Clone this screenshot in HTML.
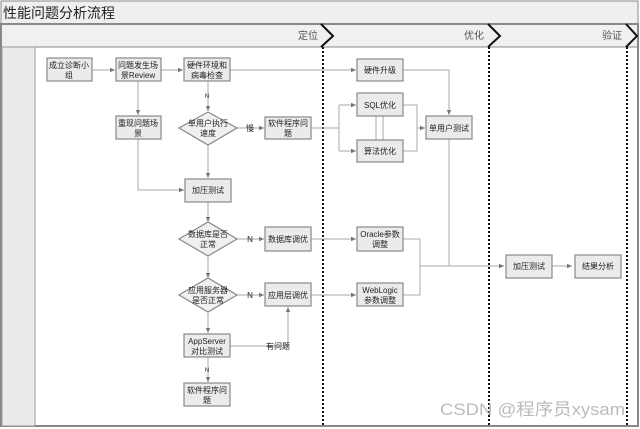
<!DOCTYPE html>
<html><head><meta charset="utf-8"><style>
html,body{margin:0;padding:0;background:#fff;}
svg{display:block;font-family:"Liberation Sans","Noto Sans CJK SC",sans-serif;}
</style></head><body>
<svg width="640" height="429" viewBox="0 0 640 429" xmlns="http://www.w3.org/2000/svg">
<defs>
<marker id="a" markerWidth="6" markerHeight="6" refX="5" refY="3" orient="auto" markerUnits="userSpaceOnUse"><path d="M0,0.8 L5,3 L0,5.2z" fill="#777"/></marker>
</defs>
<rect x="0" y="0" width="640" height="429" fill="#fff"/>
<rect x="1" y="1" width="637" height="23" fill="#efefef" stroke="#888"/>
<text x="3" y="18" font-size="14" fill="#222">性能问题分析流程</text>
<rect x="1" y="24" width="637" height="23" fill="#f0f0f0" stroke="#888"/>
<rect x="1" y="24" width="637" height="402" fill="none" stroke="#888" stroke-width="2"/>
<rect x="2" y="47" width="33" height="379" fill="#ebebeb" stroke="#999"/>
<g fill="none" stroke="#111" stroke-width="2">
<path d="M321,24 L333,36 L321,47"/>
<path d="M488,24 L500,36 L488,47"/>
<path d="M626,24 L637,36 L626,47"/>
</g>
<g font-size="10" fill="#555">
<text x="298" y="39">定位</text>
<text x="464" y="39">优化</text>
<text x="602" y="39">验证</text>
</g>
<g stroke="#111" stroke-width="2" stroke-dasharray="2,2">
<line x1="323" y1="47" x2="323" y2="426"/>
<line x1="489" y1="47" x2="489" y2="426"/>
<line x1="627" y1="47" x2="627" y2="426"/>
</g>
<g fill="none" stroke="#aaa" stroke-width="1">
<line x1="92" y1="70" x2="115" y2="70" marker-end="url(#a)"/>
<line x1="161" y1="70" x2="183" y2="70" marker-end="url(#a)"/>
<line x1="230" y1="70" x2="356" y2="70" marker-end="url(#a)"/>
<line x1="138" y1="81" x2="138" y2="115" marker-end="url(#a)"/>
<polyline points="138,139 138,190 184,190" marker-end="url(#a)"/>
<line x1="208" y1="81" x2="208" y2="111" marker-end="url(#a)"/>
<line x1="208" y1="145" x2="208" y2="178" marker-end="url(#a)"/>
<line x1="237" y1="128" x2="264" y2="128" marker-end="url(#a)"/>
<line x1="311" y1="128" x2="339" y2="128"/>
<polyline points="339,105 339,151"/>
<line x1="339" y1="105" x2="356" y2="105" marker-end="url(#a)"/>
<line x1="339" y1="151" x2="356" y2="151" marker-end="url(#a)"/>
<polyline points="403,105 417,105 417,151 403,151"/>
<line x1="417" y1="128" x2="425" y2="128" marker-end="url(#a)"/>
<polyline points="403,70 449,70 449,115" marker-end="url(#a)"/>
<line x1="376" y1="116" x2="376" y2="140"/>
<line x1="383" y1="116" x2="383" y2="140"/>
<line x1="449" y1="139" x2="449" y2="266"/>
<line x1="208" y1="202" x2="208" y2="222" marker-end="url(#a)"/>
<line x1="208" y1="256" x2="208" y2="278" marker-end="url(#a)"/>
<line x1="208" y1="312" x2="208" y2="333" marker-end="url(#a)"/>
<line x1="208" y1="357" x2="208" y2="382" marker-end="url(#a)"/>
<line x1="237" y1="239" x2="264" y2="239" marker-end="url(#a)"/>
<line x1="237" y1="295" x2="264" y2="295" marker-end="url(#a)"/>
<line x1="311" y1="239" x2="356" y2="239" marker-end="url(#a)"/>
<line x1="311" y1="295" x2="356" y2="295" marker-end="url(#a)"/>
<polyline points="230,346 288,346 288,307" marker-end="url(#a)"/>
<polyline points="403,239 420,239 420,295 403,295"/>
<line x1="420" y1="266" x2="504" y2="266" marker-end="url(#a)"/>
<line x1="551" y1="266" x2="572" y2="266" marker-end="url(#a)"/>
</g>
<g fill="#ebebeb" stroke="#888" stroke-width="1.2">
<rect x="47" y="58" width="45" height="23"/>
<rect x="116" y="58" width="45" height="23"/>
<rect x="184" y="58" width="46" height="23"/>
<rect x="116" y="116" width="45" height="23"/>
<rect x="265" y="117" width="46" height="22"/>
<rect x="185" y="179" width="46" height="23"/>
<rect x="265" y="227" width="46" height="24"/>
<rect x="265" y="283" width="46" height="23"/>
<rect x="184" y="334" width="46" height="23"/>
<rect x="184" y="383" width="46" height="23"/>
<rect x="357" y="59" width="46" height="22"/>
<rect x="357" y="93" width="46" height="23"/>
<rect x="357" y="140" width="46" height="22"/>
<rect x="426" y="116" width="46" height="23"/>
<rect x="357" y="227" width="46" height="24"/>
<rect x="357" y="283" width="46" height="23"/>
<rect x="506" y="255" width="46" height="23"/>
<rect x="575" y="255" width="46" height="23"/>
<polygon points="179,128 208,112 237,128 208,145" fill="#f0f0f0"/>
<polygon points="179,239 208,222 237,239 208,256" fill="#f0f0f0"/>
<polygon points="179,295 208,278 237,295 208,312" fill="#f0f0f0"/>
</g>
<g font-size="8" fill="#222" text-anchor="middle">
<text x="69" y="68">成立诊断小</text><text x="69" y="78">组</text>
<text x="138" y="68">问题发生场</text><text x="138" y="78">景Review</text>
<text x="207" y="68">硬件环境和</text><text x="207" y="78">病毒检查</text>
<text x="138" y="126">重现问题场</text><text x="138" y="136">景</text>
<text x="208" y="126">单用户执行</text><text x="208" y="136">速度</text>
<text x="288" y="126">软件程序问</text><text x="288" y="136">题</text>
<text x="208" y="193">加压测试</text>
<text x="208" y="237">数据库是否</text><text x="208" y="247">正常</text>
<text x="288" y="242">数据库调优</text>
<text x="208" y="293">应用服务器</text><text x="208" y="303">是否正常</text>
<text x="288" y="298">应用层调优</text>
<text x="207" y="344">AppServer</text><text x="207" y="354">对比测试</text>
<text x="207" y="393">软件程序问</text><text x="207" y="403">题</text>
<text x="380" y="73">硬件升级</text>
<text x="380" y="108">SQL优化</text>
<text x="380" y="154">算法优化</text>
<text x="449" y="131">单用户测试</text>
<text x="380" y="237">Oracle参数</text><text x="380" y="247">调整</text>
<text x="380" y="293">WebLogic</text><text x="380" y="303">参数调整</text>
<text x="529" y="269">加压测试</text>
<text x="598" y="269">结果分析</text>
<text x="250" y="131">慢</text>
<text x="250" y="242">N</text>
<text x="250" y="298">N</text>
<text x="278" y="349">有问题</text>
<text x="207" y="98" font-size="6">N</text>
<text x="207" y="372" font-size="6">N</text>
</g>
<text x="440" y="415" font-size="17" fill="#bbb" textLength="185" lengthAdjust="spacingAndGlyphs">CSDN @程序员xysam</text>
</svg>
</body></html>
